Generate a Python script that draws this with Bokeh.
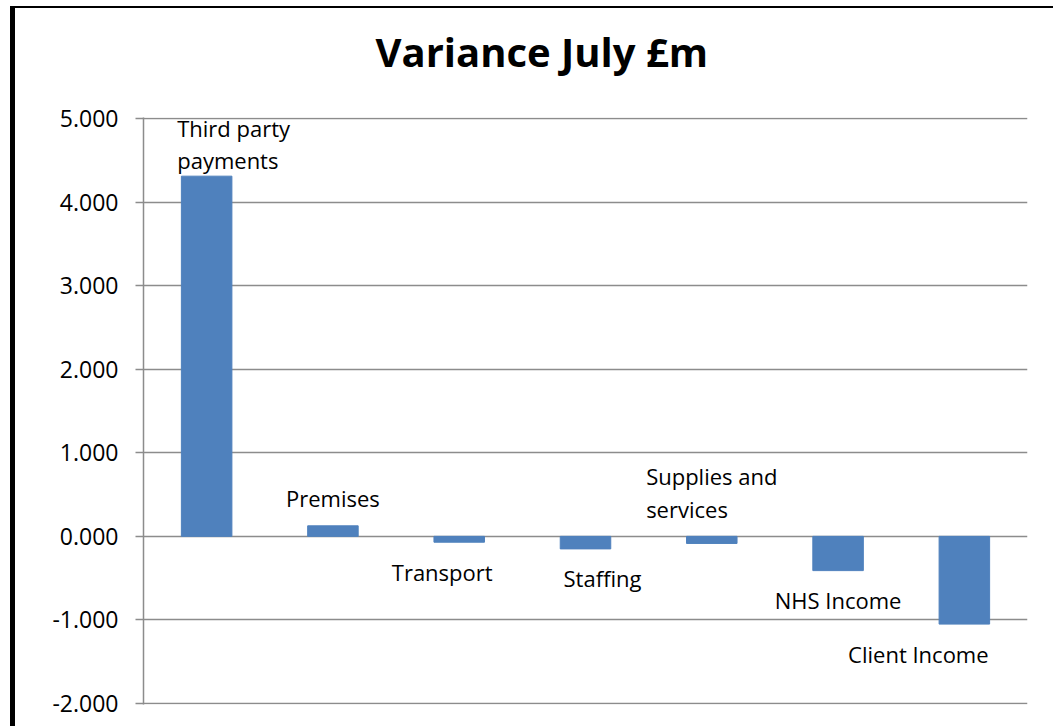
from bokeh.plotting import figure
from bokeh.models import ColumnDataSource, FixedTicker, NumeralTickFormatter, LabelSet, Title
from bokeh.core.properties import value
from bokeh.embed import file_html
from bokeh.resources import INLINE

# ---- data ----
categories = ["Third party\npayments", "Premises", "Transport", "Staffing",
              "Supplies and\nservices", "NHS Income", "Client Income"]
variance = [4.31, 0.126, -0.07, -0.15, -0.085, -0.41, -1.05]
y_ticks = [-2, -1, 0, 1, 2, 3, 4, 5]
title_text = "Variance July £m"

# label placement (screen pixel offsets from bar end, positive = up)
label_dx = [27, 0, -17, 17, 0, 0, -46]
label_dy = [32, 28, -30, -29, 51, -29, -30]

idx = list(range(len(categories)))
src = ColumnDataSource(dict(x=idx, v=variance, label=categories,
                            dx=label_dx, dy=label_dy))

FONT = "Open Sans"
GRID = "#8c8c8c"
BAR = "#4F81BD"

p = figure(width=1043, height=720,
           x_range=(-0.5, len(categories) - 0.5), y_range=(-2.012, 5.012),
           output_backend="svg", toolbar_location=None,
           min_border_left=128, min_border_right=31,
           min_border_top=109, min_border_bottom=24,
           styles={"margin-top": "6px", "margin-left": "10px",
                   "border-left": "5px solid black",
                   "border-top": "2px solid black"})

p.outline_line_color = None
p.background_fill_color = "white"
p.border_fill_color = "white"
p.title.visible = False

# spacer between frame and title, then the title itself
p.add_layout(Title(text=" ", text_font_size="1px", standoff=36), "above")
p.add_layout(Title(text=title_text, align="left", vertical_align="bottom",
                   text_font=FONT, text_font_size="40px",
                   text_font_style="bold", text_color="black",
                   offset=232, standoff=0), "above")

p.vbar(x="x", top="v", bottom=0, width=0.4, source=src,
       fill_color=BAR, line_color=BAR)

p.add_layout(LabelSet(x="x", y="v", text="label", x_offset="dx", y_offset="dy",
                      source=src, text_align="center", text_baseline="middle",
                      text_font=value(FONT), text_font_size=value("22px"),
                      text_color="black", text_line_height=1.07))

p.xaxis.visible = False
p.xgrid.visible = False

p.ygrid.ticker = FixedTicker(ticks=y_ticks)
p.ygrid.grid_line_color = GRID
p.ygrid.grid_line_width = 1.5

ax = p.yaxis[0]
ax.ticker = FixedTicker(ticks=y_ticks)
ax.formatter = NumeralTickFormatter(format="0.000")
ax.axis_line_color = GRID
ax.axis_line_width = 1.5
ax.major_tick_line_color = GRID
ax.major_tick_line_width = 1.5
ax.major_tick_out = 8
ax.major_tick_in = 0
ax.minor_tick_line_color = None
ax.major_label_standoff = 17
ax.major_label_text_font = FONT
ax.major_label_text_font_size = "23px"
ax.major_label_text_color = "black"

open("out.html", "w").write(file_html(p, INLINE))
